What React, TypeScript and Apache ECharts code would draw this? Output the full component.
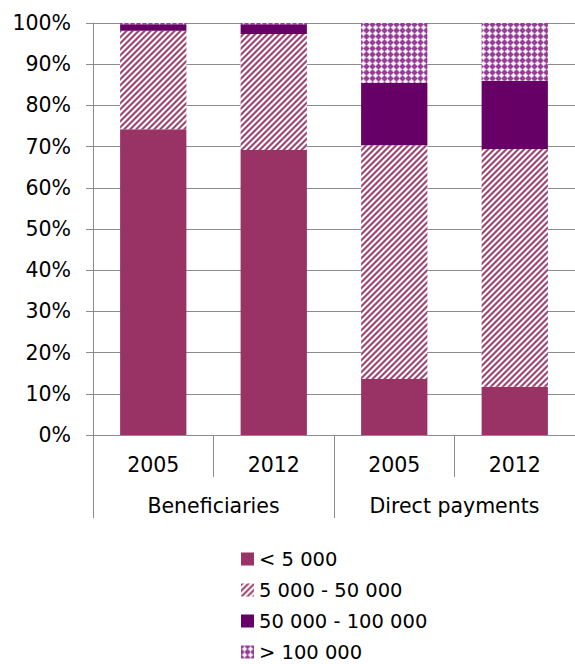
import React, { useEffect, useRef } from "react";
import * as echarts from "echarts";

const years = ["2005", "2012", "2005", "2012"];
const groups = ["Beneficiaries", "Direct payments"];
const seriesNames = ["< 5 000", "5 000 - 50 000", "50 000 - 100 000", "> 100 000"];
const under5k = [74.2, 69.2, 13.6, 11.7];
const from5kTo50k = [23.9, 28.1, 56.7, 57.7];
const from50kTo100k = [1.4, 2.2, 15.2, 16.6];
const over100k = [0.5, 0.5, 14.5, 14.0];
const yTicks = { min: 0, max: 100, interval: 10 };

const FONT = "DejaVu Sans";
const GRID_COLOR = "#8c8c8c";
const FS = 20.5;
const LEGEND_TOPS = [549, 580, 611, 642];

function makeTile(size: number, fn: (x: number, y: number) => string) {
  const c = document.createElement("canvas");
  c.width = size;
  c.height = size;
  const ctx = c.getContext("2d")!;
  for (let y = 0; y < size; y++) {
    for (let x = 0; x < size; x++) {
      ctx.fillStyle = fn(x, y);
      ctx.fillRect(x, y, 1, 1);
    }
  }
  return c;
}

export default function App() {
  const ref = useRef<HTMLDivElement>(null);
  useEffect(() => {
    document.body.style.margin = "0";
    if (!ref.current) return;
    const chart = echarts.init(ref.current, null, { renderer: "svg" });

    const stripes = makeTile(6, (x, y) => {
      const d = (x + y) % 6;
      if (d === 0 || d === 1) return "#a0446f";
      if (d === 2 || d === 5) return "#d2a0b8";
      return "#ffffff";
    });
    const checks = makeTile(6, (x, y) => {
      const m = Math.abs(x - 3) + Math.abs(y - 3);
      if (m <= 1) return "#ffffff";
      if (m === 2) return "#e8d4e8";
      if (m === 3) return "#b877b8";
      return "#933d93";
    });

    const colors: any[] = [
      "#993366",
      { image: stripes, repeat: "repeat" },
      "#660066",
      { image: checks, repeat: "repeat" },
    ];
    const values = [under5k, from5kTo50k, from50kTo100k, over100k];

    chart.setOption({
      animation: false,
      textStyle: { fontFamily: FONT, color: "#000" },
      grid: { left: 93, top: 23, right: -2, bottom: 229 },
      legend: seriesNames.map((name, i) => ({
        orient: "vertical",
        left: 241,
        top: LEGEND_TOPS[i],
        padding: 0,
        itemWidth: 13,
        itemHeight: 13,
        icon: "rect",
        textStyle: { fontFamily: FONT, fontSize: 19.5, color: "#000", lineHeight: 16 },
        data: [name],
      })),
      xAxis: [
        {
          type: "category",
          data: years,
          position: "bottom",
          axisLine: { show: true, lineStyle: { color: GRID_COLOR, width: 1 } },
          axisTick: { show: true, length: 42, interval: 0, lineStyle: { color: GRID_COLOR } },
          axisLabel: { fontFamily: FONT, fontSize: FS, color: "#000", margin: 19, interval: 0 },
        },
        {
          type: "category",
          data: groups,
          position: "bottom",
          axisLine: { show: false },
          axisTick: { show: true, length: 83, interval: 0, lineStyle: { color: GRID_COLOR } },
          axisLabel: { fontFamily: FONT, fontSize: FS, color: "#000", margin: 60, interval: 0 },
        },
      ],
      yAxis: {
        type: "value",
        min: yTicks.min,
        max: yTicks.max,
        interval: yTicks.interval,
        axisLine: { show: true, lineStyle: { color: GRID_COLOR } },
        axisTick: { show: true, length: 7, lineStyle: { color: GRID_COLOR } },
        axisLabel: { fontFamily: FONT, fontSize: FS, color: "#000", margin: 22, formatter: "{value}%" },
        splitLine: { show: true, lineStyle: { color: GRID_COLOR, width: 1 } },
      },
      series: seriesNames.map((name, i) => ({
        name,
        type: "bar",
        stack: "total",
        xAxisIndex: 0,
        barWidth: "55%",
        data: values[i],
        itemStyle: { color: colors[i] },
      })),
    });
    return () => chart.dispose();
  }, []);
  return <div ref={ref} style={{ width: 575, height: 664 }} />;
}
